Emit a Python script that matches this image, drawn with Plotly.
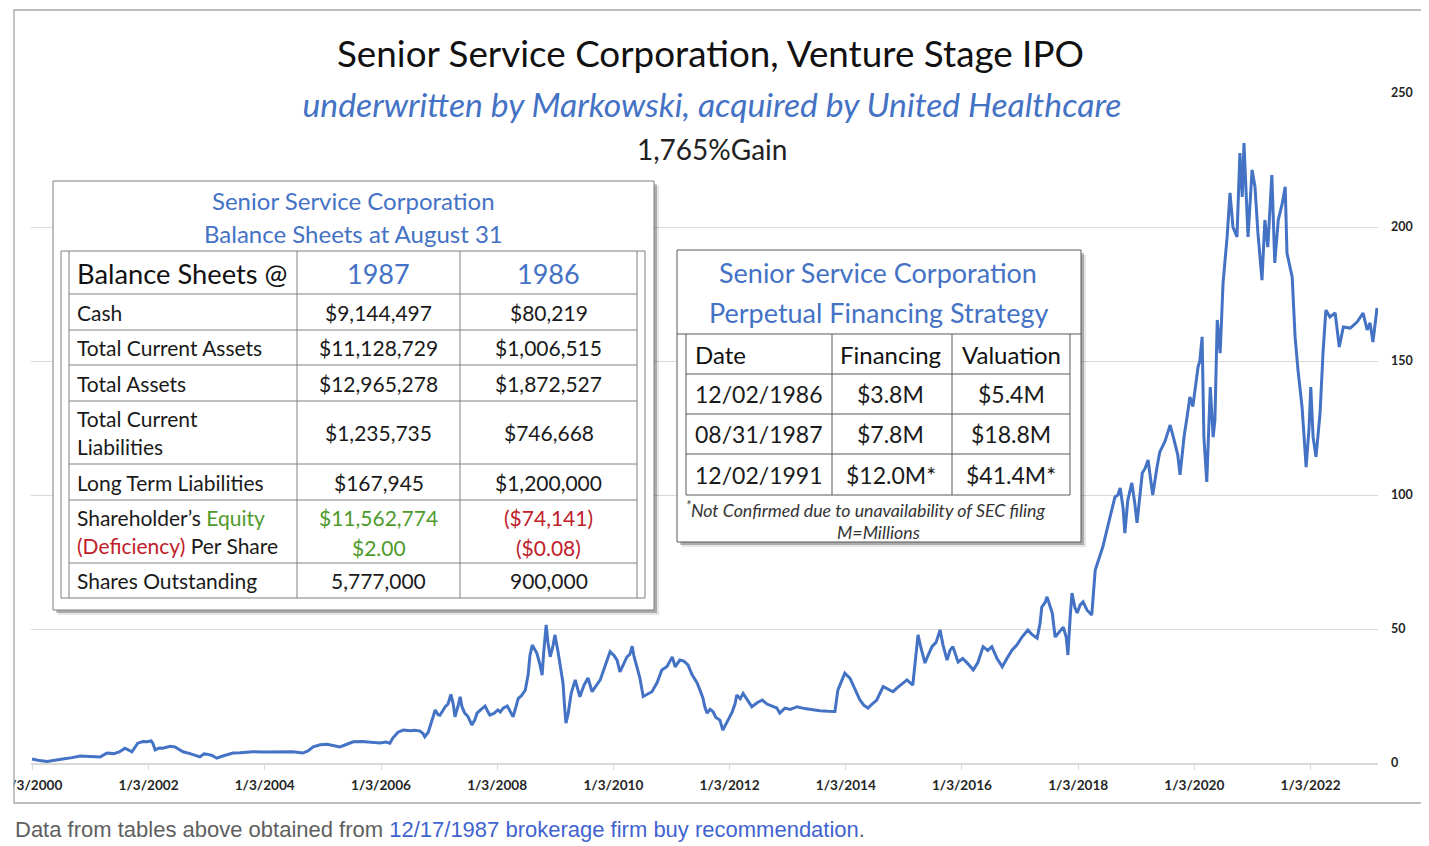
import pandas as pd
import plotly.graph_objects as go

# ---------------- data ----------------
years = [
    2000.00, 2000.10, 2000.26, 2000.40, 2000.53, 2000.69, 2000.83, 2001.00, 2001.17, 2001.29,
    2001.41, 2001.51, 2001.60, 2001.72, 2001.82, 2001.91, 2001.98, 2002.05, 2002.08, 2002.12,
    2002.19, 2002.25, 2002.38, 2002.46, 2002.55, 2002.60, 2002.72, 2002.81, 2002.89, 2002.96,
    2003.01, 2003.10, 2003.18, 2003.27, 2003.37, 2003.46, 2003.58, 2003.70, 2003.80, 2003.98,
    2004.15, 2004.32, 2004.49, 2004.66, 2004.75, 2004.84, 2004.96, 2005.08, 2005.20, 2005.30,
    2005.42, 2005.53, 2005.68, 2005.85, 2005.99, 2006.09, 2006.16, 2006.21, 2006.30, 2006.39,
    2006.51, 2006.59, 2006.68, 2006.73, 2006.76, 2006.82, 2006.85, 2006.90, 2006.94, 2006.99,
    2007.02, 2007.07, 2007.11, 2007.16, 2007.21, 2007.25, 2007.28, 2007.33, 2007.37, 2007.40,
    2007.45, 2007.50, 2007.57, 2007.62, 2007.66, 2007.73, 2007.80, 2007.85, 2007.88, 2007.95,
    2008.02, 2008.06, 2008.11, 2008.18, 2008.23, 2008.28, 2008.33, 2008.37, 2008.42, 2008.49,
    2008.54, 2008.57, 2008.61, 2008.66, 2008.69, 2008.74, 2008.78, 2008.81, 2008.85, 2008.88,
    2008.92, 2008.97, 2009.00, 2009.05, 2009.09, 2009.14, 2009.17, 2009.19, 2009.23, 2009.28,
    2009.35, 2009.40, 2009.43, 2009.50, 2009.57, 2009.64, 2009.71, 2009.78, 2009.86, 2009.95,
    2010.02, 2010.07, 2010.12, 2010.19, 2010.24, 2010.29, 2010.33, 2010.36, 2010.41, 2010.46,
    2010.52, 2010.59, 2010.67, 2010.76, 2010.84, 2010.93, 2011.02, 2011.07, 2011.15, 2011.22,
    2011.29, 2011.36, 2011.45, 2011.50, 2011.55, 2011.58, 2011.62, 2011.67, 2011.72, 2011.77,
    2011.84, 2011.89, 2011.95, 2011.98, 2012.05, 2012.10, 2012.13, 2012.19, 2012.24, 2012.31,
    2012.39, 2012.48, 2012.57, 2012.65, 2012.75, 2012.82, 2012.87, 2012.96, 2013.05, 2013.17,
    2013.30, 2013.44, 2013.56, 2013.70, 2013.82, 2013.87, 2013.94, 2013.99, 2014.08, 2014.17,
    2014.25, 2014.32, 2014.39, 2014.46, 2014.54, 2014.65, 2014.73, 2014.82, 2014.89, 2014.97,
    2015.06, 2015.16, 2015.20, 2015.25, 2015.30, 2015.37, 2015.42, 2015.49, 2015.56, 2015.63,
    2015.68, 2015.75, 2015.80, 2015.85, 2015.94, 2016.02, 2016.11, 2016.20, 2016.28, 2016.37,
    2016.45, 2016.52, 2016.61, 2016.70, 2016.78, 2016.87, 2016.95, 2017.04, 2017.14, 2017.21,
    2017.30, 2017.35, 2017.38, 2017.44, 2017.47, 2017.52, 2017.56, 2017.61, 2017.68, 2017.75,
    2017.80, 2017.83, 2017.87, 2017.90, 2017.95, 2017.99, 2018.04, 2018.09, 2018.16, 2018.24,
    2018.30, 2018.35, 2018.38, 2018.43, 2018.50, 2018.57, 2018.64, 2018.69, 2018.73, 2018.78,
    2018.81, 2018.86, 2018.93, 2018.98, 2019.02, 2019.07, 2019.11, 2019.16, 2019.21, 2019.24,
    2019.29, 2019.36, 2019.41, 2019.50, 2019.59, 2019.64, 2019.67, 2019.72, 2019.76, 2019.83,
    2019.88, 2019.93, 2019.98, 2020.03, 2020.07, 2020.10, 2020.14, 2020.17, 2020.22, 2020.28,
    2020.33, 2020.36, 2020.40, 2020.45, 2020.50, 2020.57, 2020.62, 2020.67, 2020.74, 2020.79,
    2020.83, 2020.86, 2020.91, 2020.93, 2021.00, 2021.05, 2021.10, 2021.17, 2021.22, 2021.27,
    2021.34, 2021.39, 2021.45, 2021.52, 2021.57, 2021.60, 2021.69, 2021.74, 2021.79, 2021.86,
    2021.93, 2021.98, 2022.01, 2022.05, 2022.10, 2022.17, 2022.22, 2022.27, 2022.34, 2022.43,
    2022.50, 2022.57, 2022.69, 2022.81, 2022.91, 2022.98, 2023.03, 2023.08, 2023.15,
]
prices = [
    1.5, 1.0, 0.6, 1.2, 1.5, 2.0, 2.6, 2.4, 2.2, 3.7,
    3.5, 4.2, 5.5, 4.2, 7.4, 8.0, 7.9, 8.2, 7.4, 4.9,
    5.6, 5.5, 6.2, 6.0, 5.0, 4.2, 3.5, 3.0, 2.3, 3.4,
    3.3, 2.8, 1.8, 2.5, 3.0, 3.7, 3.8, 4.0, 4.2, 4.1,
    4.1, 4.0, 4.2, 3.7, 4.5, 6.0, 6.8, 7.0, 6.5, 6.0,
    7.0, 7.9, 8.0, 7.6, 7.5, 7.8, 7.4, 9.3, 11.5, 12.3,
    12.0, 12.2, 11.9, 11.0, 9.8, 11.5, 13.5, 17.0, 19.8, 18.0,
    17.8, 19.5, 20.9, 22.0, 25.6, 22.0, 17.2, 21.0, 24.7, 21.0,
    18.5, 17.5, 14.2, 16.0, 18.6, 20.0, 21.2, 19.0, 17.9, 18.5,
    19.8, 19.0, 20.5, 21.3, 19.0, 17.2, 21.0, 24.1, 25.0, 27.2,
    33.0, 40.0, 44.0, 42.0, 40.9, 37.0, 32.8, 42.0, 51.5, 45.0,
    39.6, 44.0, 47.8, 42.0, 35.9, 29.8, 20.0, 14.9, 18.6, 26.0,
    31.0, 27.0, 24.7, 29.0, 31.7, 26.6, 29.0, 31.0, 36.0, 41.5,
    40.0, 38.4, 34.0, 37.0, 39.6, 40.5, 43.6, 40.0, 35.9, 32.0,
    24.8, 25.5, 26.6, 30.0, 34.7, 36.0, 39.6, 35.9, 38.4, 38.0,
    36.6, 33.0, 29.8, 27.0, 24.1, 21.0, 18.6, 20.0, 19.2, 17.0,
    16.0, 12.3, 14.5, 16.0, 19.0, 22.0, 25.4, 24.0, 26.0, 23.5,
    21.0, 22.5, 23.5, 22.0, 21.0, 20.5, 18.6, 20.5, 20.0, 21.0,
    20.3, 19.8, 19.5, 19.3, 19.2, 27.2, 31.0, 33.5, 31.6, 27.5,
    23.5, 21.5, 20.5, 22.0, 23.5, 28.5, 27.5, 26.6, 28.0, 29.5,
    31.0, 29.1, 38.0, 47.8, 43.0, 37.3, 40.0, 43.4, 45.0, 49.6,
    44.0, 38.4, 42.0, 43.4, 37.7, 39.0, 37.0, 34.7, 37.5, 43.4,
    42.0, 43.4, 39.0, 35.9, 39.0, 42.2, 44.0, 47.0, 49.6, 48.0,
    46.6, 52.0, 58.2, 60.0, 62.0, 59.0, 56.0, 47.0, 49.0, 50.7,
    47.0, 40.3, 55.0, 63.4, 58.0, 56.0, 59.0, 60.1, 57.0, 55.2,
    72.0, 75.0, 77.0, 80.6, 86.9, 93.0, 99.3, 100.0, 102.6, 95.0,
    85.8, 98.0, 104.5, 97.0, 89.6, 100.0, 108.2, 110.0, 113.1, 108.0,
    100.0, 110.0, 116.0, 120.0, 126.1, 122.0, 119.4, 115.0, 107.5, 122.0,
    129.0, 136.6, 133.0, 142.0, 147.8, 150.0, 159.0, 121.6, 104.9, 140.3,
    121.6, 128.0, 165.3, 152.9, 179.1, 196.3, 212.7, 200.0, 196.3, 227.6,
    211.2, 231.3, 203.7, 196.3, 221.3, 215.0, 197.8, 180.2, 202.6, 192.5,
    219.4, 186.6, 202.6, 208.9, 215.0, 190.3, 181.3, 159.0, 146.6, 132.8,
    110.4, 125.0, 140.3, 121.6, 114.2, 130.6, 152.9, 169.0, 166.4, 167.9,
    155.2, 162.7, 162.3, 164.6, 167.9, 161.6, 164.2, 157.1, 169.8,
]

x_tick_dates = ["2000-01-03", "2002-01-03", "2004-01-03", "2006-01-03", "2008-01-03", "2010-01-03",
                "2012-01-03", "2014-01-03", "2016-01-03", "2018-01-03", "2020-01-03", "2022-01-03"]
x_tick_labels = ["1/3/2000", "1/3/2002", "1/3/2004", "1/3/2006", "1/3/2008", "1/3/2010",
                 "1/3/2012", "1/3/2014", "1/3/2016", "1/3/2018", "1/3/2020", "1/3/2022"]
y_tick_vals = [0, 50, 100, 150, 200, 250]

title_text = "Senior Service Corporation, Venture Stage IPO"
subtitle_text = "underwritten by Markowski, acquired by United Healthcare"
gain_text = "1,765%Gain"

bs_title = ["Senior Service Corporation", "Balance Sheets at August 31"]
bs_header = "Balance Sheets @"
bs_years = ["1987", "1986"]
bs_labels = [["Cash"], ["Total Current Assets"], ["Total Assets"],
             ["Total Current", "Liabilities"], ["Long Term Liabilities"],
             ["Shareholder\u2019s <span style='color:#4f9a2c'>Equity</span>",
              "<span style='color:#c0202a'>(Deficiency)</span> Per Share"],
             ["Shares Outstanding"]]
bs_1987 = [["$9,144,497"], ["$11,128,729"], ["$12,965,278"], ["$1,235,735"], ["$167,945"],
           ["$11,562,774", "$2.00"], ["5,777,000"]]
bs_1986 = [["$80,219"], ["$1,006,515"], ["$1,872,527"], ["$746,668"], ["$1,200,000"],
           ["($74,141)", "($0.08)"], ["900,000"]]

fin_title = ["Senior Service Corporation", "Perpetual Financing Strategy"]
fin_header = ["Date", "Financing", "Valuation"]
fin_dates = ["12/02/1986", "08/31/1987", "12/02/1991"]
fin_amounts = ["$3.8M", "$7.8M", "$12.0M*"]
fin_valuations = ["$5.4M", "$18.8M", "$41.4M*"]
fin_notes = ["<sup>*</sup>Not Confirmed due to unavailability of SEC filing", "M=Millions"]

caption_plain = "Data from tables above obtained from "
caption_link = "12/17/1987 brokerage firm buy recommendation"

# ---------------- geometry helpers (page pixels -> paper) ----------------
# the page has an 8px body margin at top/left
PAGE_OFF = 8
W, H = 1429 - PAGE_OFF, 846 - PAGE_OFF
L, R, T, B = 31, 1378, 93, 763          # plot area in page pixels


def X(px):
    return (px - L) / (R - L)


def Y(py):
    return (B - py) / (B - T)


def yr2date(y):
    return pd.Timestamp("2000-01-01") + pd.Timedelta(days=(y - 2000) * 365.25)


dates = [yr2date(y) for y in years]
x_range = [yr2date(2000 + (L - 32) / 58.1), yr2date(2000 + (R - 32) / 58.1)]

BLUE = "#4472c4"
GREEN = "#4f9a2c"
RED = "#c0202a"
FONT = "Lato"

fig = go.Figure()
fig.add_trace(go.Scatter(x=dates, y=prices, mode="lines",
                         line=dict(color=BLUE, width=3), hoverinfo="skip", showlegend=False))

shapes = []


def rect(x0, y0, x1, y1, fill=None, line=None, lw=1):
    shapes.append(dict(type="rect", xref="paper", yref="paper", layer="above",
                       x0=X(x0), x1=X(x1), y0=Y(y0), y1=Y(y1),
                       fillcolor=fill if fill else "rgba(0,0,0,0)",
                       line=dict(color=line if line else "rgba(0,0,0,0)", width=lw if line else 0)))


def seg(x0, y0, x1, y1, color="#808080", lw=1):
    shapes.append(dict(type="line", xref="paper", yref="paper", layer="above",
                       x0=X(x0), x1=X(x1), y0=Y(y0), y1=Y(y1),
                       line=dict(color=color, width=lw)))


annotations = []


def txt(text, px, py, size, color="#1a1a1a", anchor="center", family=FONT, **kw):
    if anchor == "left":
        px -= 2.5   # compensate the annotation's inner padding
    annotations.append(dict(text=text, x=X(px), y=Y(py), xref="paper", yref="paper",
                            xanchor=anchor, yanchor="middle", showarrow=False,
                            font=dict(family=family, size=size, color=color), **kw))


# clip the left part of the first tick label, then the outer frame
rect(-40, 770, 13.5, 800, fill="white")
rect(14, 10, 1423, 803, line="#a6a6a6", lw=1.3)

# ---- left table (balance sheets) ----
rect(58, 186, 659, 615, fill="rgba(0,0,0,0.10)")
rect(56, 184, 657, 613, fill="rgba(0,0,0,0.25)")
rect(53, 181, 654, 610, fill="white", line="#7f7f7f", lw=1)
rect(61, 251, 645, 598, line="#7f7f7f", lw=1)
seg(69, 251, 69, 598)
seg(637, 251, 637, 598)
for yy in [294, 330, 365, 401, 464, 500, 563]:
    seg(69, yy, 637, yy)
for xx in [297, 460]:
    seg(xx, 251, xx, 598)

txt(bs_title[0], 353, 200, 24, BLUE)
txt(bs_title[1], 353, 233, 24, BLUE)
txt(bs_header, 77, 273, 27.3, "#111111", anchor="left")
txt(bs_years[0], 378.5, 273, 27, BLUE)
txt(bs_years[1], 548.5, 273, 27, BLUE)

row_tops = [294, 330, 365, 401, 464, 500, 563]
row_bots = [330, 365, 401, 464, 500, 563, 598]
for i in range(len(bs_labels)):
    top, bot = row_tops[i], row_bots[i]
    mid = (top + bot) / 2
    lab = bs_labels[i]
    if len(lab) == 1:
        txt(lab[0], 77, mid, 21, anchor="left")
    else:
        txt(lab[0], 77, mid - 14, 21, anchor="left")
        txt(lab[1], 77, mid + 14, 21, anchor="left")
    for col, cx in [(bs_1987, 378.5), (bs_1986, 548.5)]:
        vals = col[i]
        if len(vals) == 1:
            txt(vals[0], cx, mid, 21)
        else:
            c = GREEN if col is bs_1987 else RED
            txt(vals[0], cx, mid - 14, 21, c)
            txt(vals[1], cx, mid + 16, 21, c)

# ---- right table (financing strategy) ----
rect(682, 255, 1086, 547, fill="rgba(0,0,0,0.10)")
rect(680, 253, 1084, 545, fill="rgba(0,0,0,0.25)")
rect(677, 250, 1081, 542, fill="white", line="#595959", lw=1)
seg(677, 334, 1081, 334, "#595959")
for xx in [686, 832, 952, 1070]:
    seg(xx, 334, xx, 495, "#595959")
for yy in [374, 414, 454, 495]:
    seg(686, yy, 1070, yy, "#595959")

txt(fin_title[0], 878, 272, 27, BLUE)
txt(fin_title[1], 878, 312, 27, BLUE)
col_cx = [None, 891, 1011]
txt(fin_header[0], 695, 354, 24, "#111111", anchor="left")
txt(fin_header[1], col_cx[1], 354, 24, "#111111")
txt(fin_header[2], col_cx[2], 354, 24, "#111111")
for i, ry in enumerate([394, 434, 475]):
    txt(fin_dates[i], 695, ry, 23, anchor="left")
    txt(fin_amounts[i], col_cx[1], ry, 23)
    txt(fin_valuations[i], col_cx[2], ry, 23)
txt("<i>" + fin_notes[0] + "</i>", 686, 509, 17.8, "#333333", anchor="left")
txt("<i>" + fin_notes[1] + "</i>", 878, 532, 17.8, "#333333")

# ---- titles ----
txt(title_text, 710, 53, 36.8, "#111111")
txt("<i>" + subtitle_text + "</i>", 712, 104, 33.7, BLUE, bgcolor="white", width=862, height=42)
txt(gain_text, 712, 149, 28, "#222222")

# ---- caption ----
txt(caption_plain + "<span style='color:#3f63cf'>" + caption_link + "</span>.",
    15, 829, 22, "#5f5f5f", anchor="left", family="Liberation Sans")

fig.update_layout(
    width=W, height=H,
    margin=dict(l=L - PAGE_OFF, r=W - (R - PAGE_OFF), t=T - PAGE_OFF, b=H - (B - PAGE_OFF),
                pad=0, autoexpand=False),
    paper_bgcolor="white", plot_bgcolor="white",
    showlegend=False,
    shapes=shapes, annotations=annotations,
    xaxis=dict(type="date", range=x_range, tickvals=x_tick_dates, ticktext=x_tick_labels,
               automargin=False,
               showgrid=False, zeroline=False, showline=True, linecolor="#d9d9d9", linewidth=1.5,
               ticks="outside", ticklen=5, tickcolor="#d9d9d9", tickwidth=1,
               ticklabelstandoff=4, ticklabeloverflow="allow",
               tickfont=dict(family=FONT, size=13.6, color="#262626", weight="bold")),
    yaxis=dict(range=[0, 250], tickvals=y_tick_vals, side="right", automargin=False,
               showgrid=True, gridcolor="#d9d9d9", gridwidth=1, zeroline=False, showline=False,
               ticks="", ticklabelstandoff=12,
               tickfont=dict(family=FONT, size=12.5, color="#262626", weight="bold")),
)

fig.write_html("out.html")
